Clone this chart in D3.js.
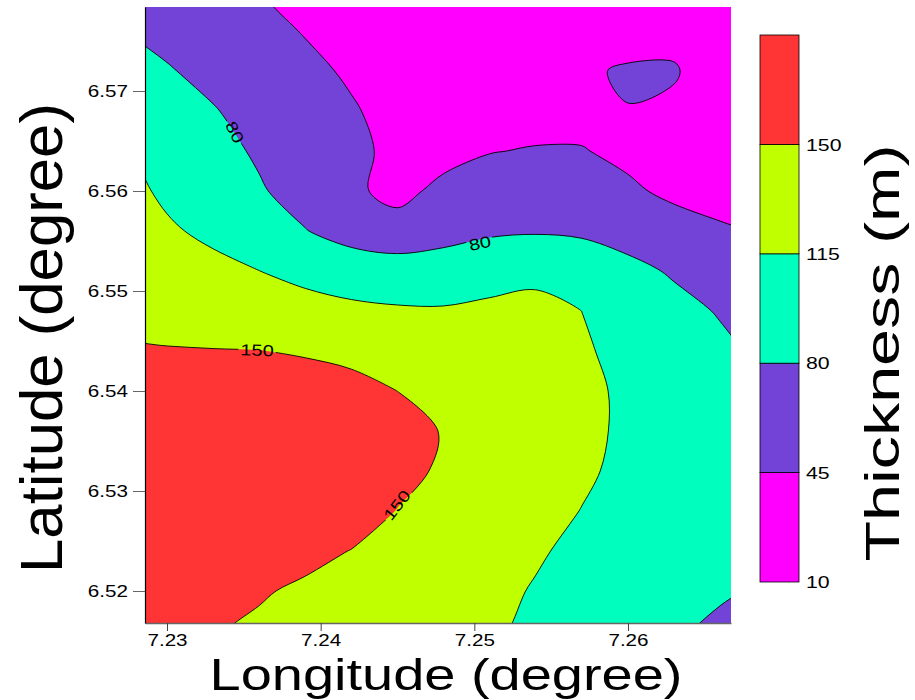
<!DOCTYPE html>
<html>
<head>
<meta charset="utf-8">
<script src="https://cdn.jsdelivr.net/npm/d3@7"></script>
<style>
  body { margin: 0; background: #fff; }
  svg text { font-family: "Liberation Sans", Arial, sans-serif; fill: #000; }
</style>
</head>
<body>
<svg id="chart" width="915" height="700"></svg>
<script>
// grid nodes (degrees); rows run north -> south
const lons = [7.227, 7.230, 7.233, 7.236, 7.239, 7.242, 7.245, 7.248, 7.251, 7.254, 7.257, 7.260, 7.263, 7.266, 7.269];
const lats = [6.580, 6.576, 6.572, 6.568, 6.564, 6.560, 6.556, 6.552, 6.548, 6.544, 6.540, 6.536, 6.532, 6.528, 6.524, 6.520, 6.516];

// thickness (m) at each grid node, one row per latitude
const thickness = [
  [74.2, 65.3, 55.4, 45.5, 35, 26, 22.2, 18, 18, 20.4, 24, 25.6, 25.4, 23.6, 20],
  [80.8, 72.6, 63.5, 53.7, 43.4, 33.2, 25.4, 20.6, 19.7, 23.6, 29.4, 35.3, 34.8, 26.6, 22],
  [90.5, 82, 72.6, 62.5, 51.8, 41.1, 29.6, 23.3, 24.5, 25.6, 42, 47.4, 48, 25, 24],
  [101.6, 92.1, 81.6, 70.4, 59, 47.7, 35.3, 26, 30.5, 32.9, 35.1, 44.4, 38.8, 27.4, 25],
  [118, 103.2, 89.3, 76.3, 64.7, 51.9, 38, 30, 43.9, 46.9, 46.5, 38, 30.9, 26, 25],
  [124.5, 110.1, 97.4, 82.8, 68.5, 53, 32, 56.5, 59.7, 62.1, 60.4, 50, 38.5, 34.3, 32],
  [127.4, 118.7, 109, 95.9, 81, 68.3, 63.1, 69.9, 76, 77.5, 76, 68.7, 58.3, 48.5, 42.6],
  [133, 128, 122.5, 115.2, 104.6, 96.8, 93, 94.2, 101, 107, 97.8, 87.7, 76.9, 64.9, 53.4],
  [142.7, 139.6, 136.2, 132.3, 128.5, 122.3, 118.9, 118, 122, 124, 114.9, 99.7, 88.4, 78, 64.2],
  [152, 151.5, 150.9, 150.4, 147.8, 141.7, 135.4, 131, 128.5, 125.9, 118.4, 106.8, 95.4, 85.6, 75],
  [160.3, 160, 159.7, 158.3, 160.8, 160, 149.9, 141.5, 136, 129.4, 120.8, 110.6, 99.9, 90.7, 86],
  [167.2, 167, 166.8, 166.3, 166.7, 167, 161.5, 148.4, 139.6, 129.8, 120.4, 111, 102.2, 94.3, 90],
  [175.2, 175, 174.8, 170.9, 167.9, 167.4, 157.7, 146.4, 137.4, 127.6, 118.3, 110, 103.1, 98.3, 92],
  [181, 176, 170.3, 164.6, 164.1, 162.2, 149.3, 141.2, 131.7, 122.3, 114.5, 107, 99.2, 92.4, 90],
  [175.4, 170, 164, 158.3, 156.8, 149.4, 143.6, 135.5, 126.9, 117.6, 109.5, 101.8, 94.8, 88.3, 82.5],
  [168.5, 163.5, 158, 152.3, 146, 141.5, 135.5, 129, 121, 113.3, 105.3, 96.5, 89, 82.9, 76.5],
  [162, 157, 151.5, 146, 140, 136, 131, 125, 118, 110.4, 102, 93.3, 83, 75, 68]
];

const levels = [10, 45, 80, 115, 150, 185];
const bandColors = ["#ff00ff", "#7342d7", "#00ffbf", "#bfff00", "#ff3535"];
const lonTicks = [7.23, 7.24, 7.25, 7.26];
const latTicks = [6.52, 6.53, 6.54, 6.55, 6.56, 6.57];

// contour labels placed on the lines
const contourLabels = [
  { lon: 7.23442, lat: 6.5659, text: "80", angle: 63 },
  { lon: 7.25036, lat: 6.5548, text: "80", angle: -12 },
  { lon: 7.23586, lat: 6.5441, text: "150", angle: 2 },
  { lon: 7.24496, lat: 6.5286, text: "150", angle: -52 }
];

const svg = d3.select("#chart");
const plot = { left: 145, right: 731, top: 7, bottom: 623 };
const stretchX = 1.25; // the original figure is a little wider than tall

function stretch(sel) {
  sel.each(function () {
    const w = this.getComputedTextLength();
    d3.select(this).attr("textLength", w * stretchX).attr("lengthAdjust", "spacingAndGlyphs");
  });
}

const x = d3.scaleLinear().domain([7.228568, 7.266703]).range([plot.left, plot.right]);
const y = d3.scaleLinear().domain([6.5168, 6.5784]).range([plot.bottom, plot.top]);

const nx = lons.length, ny = lats.length;
const gx = d3.scaleLinear().domain([0, nx - 1]).range([lons[0], lons[nx - 1]]);
const gy = d3.scaleLinear().domain([0, ny - 1]).range([lats[0], lats[ny - 1]]);

const contours = d3.contours()
  .size([nx, ny])
  .thresholds(levels.slice(1, -1))(thickness.flat());

const ringLine = d3.line()
  .x(p => x(gx(p[0] - 0.5)))
  .y(p => y(gy(p[1] - 0.5)))
  .curve(d3.curveCatmullRomClosed.alpha(0.5));

function contourPath(geom) {
  return geom.coordinates
    .map(poly => poly.map(ring => ringLine(ring.slice(0, -1))).join(""))
    .join("");
}

const defs = svg.append("defs");
defs.append("clipPath").attr("id", "plotClip")
  .append("rect")
  .attr("x", plot.left).attr("y", plot.top)
  .attr("width", plot.right - plot.left).attr("height", plot.bottom - plot.top);

const field = svg.append("g").attr("clip-path", "url(#plotClip)");

field.append("rect")
  .attr("x", plot.left).attr("y", plot.top)
  .attr("width", plot.right - plot.left).attr("height", plot.bottom - plot.top)
  .attr("fill", bandColors[0]);

field.selectAll("path.band")
  .data(contours)
  .join("path")
  .attr("class", "band")
  .attr("d", contourPath)
  .attr("fill", (d, i) => bandColors[i + 1])
  .attr("fill-rule", "evenodd");

const lines = field.append("g").attr("mask", "url(#labelMask)");

const labels = field.selectAll("text.clabel")
  .data(contourLabels)
  .join("text")
  .attr("class", "clabel")
  .attr("transform", d => `translate(${x(d.lon)},${y(d.lat)}) rotate(${d.angle})`)
  .attr("text-anchor", "middle")
  .attr("dy", "0.36em")
  .attr("font-size", 16)
  .text(d => d.text)
  .call(stretch);

// gaps in the contour lines behind the labels
const mask = defs.append("mask").attr("id", "labelMask")
  .attr("maskUnits", "userSpaceOnUse")
  .attr("x", 0).attr("y", 0).attr("width", 915).attr("height", 700);
mask.append("rect").attr("width", 915).attr("height", 700).attr("fill", "#fff");
labels.each(function (d) {
  const w = +d3.select(this).attr("textLength") + 4;
  mask.append("rect")
    .attr("x", -w / 2).attr("y", -7).attr("width", w).attr("height", 14)
    .attr("fill", "#000")
    .attr("transform", `translate(${x(d.lon)},${y(d.lat)}) rotate(${d.angle})`);
});

lines.selectAll("path")
  .data(contours)
  .join("path")
  .attr("d", contourPath)
  .attr("fill", "none")
  .attr("stroke", "#000")
  .attr("stroke-width", 0.9);

// axes
const xAxis = svg.append("g")
  .attr("transform", `translate(0,${plot.bottom})`)
  .call(d3.axisBottom(x).tickValues(lonTicks).tickFormat(d3.format(".2f")).tickSize(8).tickSizeOuter(0).tickPadding(3));
xAxis.select(".domain").attr("stroke", "#666").attr("stroke-width", 1.5);
xAxis.selectAll(".tick line").attr("stroke", "#444");
xAxis.selectAll(".tick text").attr("font-size", 16.5).attr("font-family", null).call(stretch);

const yAxis = svg.append("g")
  .attr("transform", `translate(${plot.left},0)`)
  .call(d3.axisLeft(y).tickValues(latTicks).tickFormat(d3.format(".2f")).tickSize(12).tickSizeOuter(0).tickPadding(5));
yAxis.select(".domain").attr("stroke", "#000").attr("stroke-width", 1.2);
yAxis.selectAll(".tick line").attr("stroke", "#666");
yAxis.selectAll(".tick text").attr("font-size", 16.5).attr("font-family", null).call(stretch);

svg.append("text")
  .attr("x", 446).attr("y", 690)
  .attr("text-anchor", "middle")
  .attr("font-size", 45)
  .attr("textLength", 473).attr("lengthAdjust", "spacingAndGlyphs")
  .text("Longitude (degree)");

svg.append("text")
  .attr("transform", "translate(62,338) rotate(-90)")
  .attr("text-anchor", "middle")
  .attr("font-size", 60)
  .attr("textLength", 470).attr("lengthAdjust", "spacingAndGlyphs")
  .text("Latitude (degree)");

// colour key
const c = d3.scaleLinear().domain([levels[0], levels[levels.length - 1]]).range([582, 35]);
const key = svg.append("g");
key.selectAll("rect")
  .data(bandColors)
  .join("rect")
  .attr("x", 760)
  .attr("width", 39)
  .attr("y", (d, i) => c(levels[i + 1]))
  .attr("height", (d, i) => c(levels[i]) - c(levels[i + 1]))
  .attr("fill", d => d)
  .attr("stroke", "#000")
  .attr("stroke-width", 0.8);

key.selectAll("text")
  .data(levels.slice(0, -1))
  .join("text")
  .attr("x", 806)
  .attr("y", d => c(d))
  .attr("dy", "0.36em")
  .attr("font-size", 17)
  .text(d => d)
  .call(stretch);

svg.append("text")
  .attr("transform", "translate(899,353) rotate(-90)")
  .attr("text-anchor", "middle")
  .attr("font-size", 48)
  .attr("textLength", 417).attr("lengthAdjust", "spacingAndGlyphs")
  .text("Thickness (m)");
</script>
</body>
</html>
